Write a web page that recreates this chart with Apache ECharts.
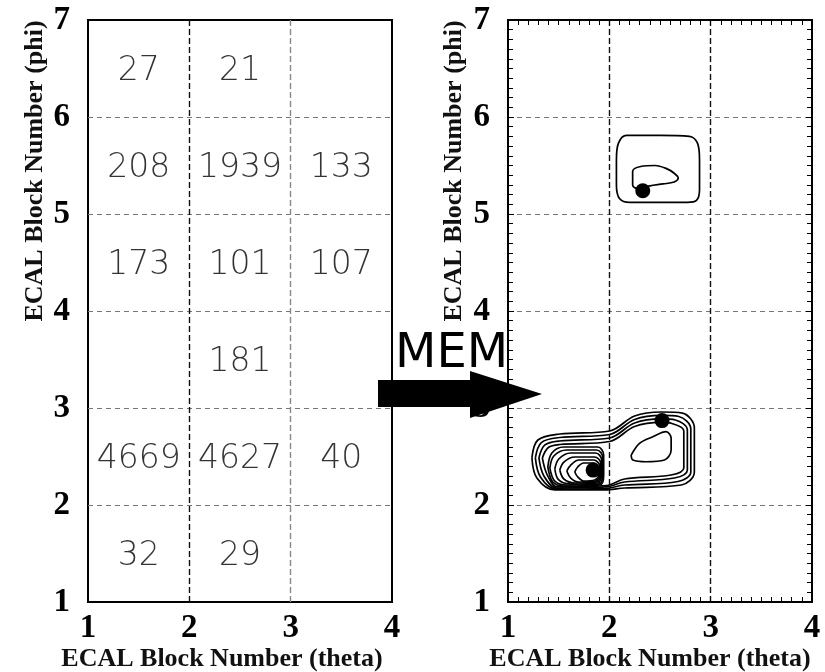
<!DOCTYPE html>
<html>
<head>
<meta charset="utf-8">
<script src="https://cdn.jsdelivr.net/npm/echarts@6/dist/echarts.min.js"></script>
<style>html,body{margin:0;padding:0;background:#fff}#chart{width:825px;height:672px}</style>
</head>
<body>
<div id="chart"></div>
<script>
// ---- data ----
const thetaRange = [1, 4];
const phiRange = [1, 7];
const cellTheta = [1.5, 2.5, 1.5, 2.5, 3.5, 1.5, 2.5, 3.5, 2.5, 1.5, 2.5, 3.5, 1.5, 2.5];
const cellPhi   = [6.5, 6.5, 5.5, 5.5, 5.5, 4.5, 4.5, 4.5, 3.5, 2.5, 2.5, 2.5, 1.5, 1.5];
const cellCounts = [27, 21, 208, 1939, 133, 173, 101, 107, 181, 4669, 4627, 40, 32, 29];

// MEM contour lines (theta, phi)
const upperOuter = [[2.07,5.56],[2.09,5.73],[2.17,5.81],[2.50,5.81],[2.79,5.80],[2.87,5.73],[2.89,5.56],[2.89,5.25],[2.86,5.14],[2.77,5.12],[2.20,5.12],[2.10,5.16],[2.07,5.30],[2.07,5.56]];
const upperInner = [[2.23,5.38],[2.23,5.44],[2.31,5.49],[2.45,5.50],[2.56,5.47],[2.64,5.42],[2.68,5.37],[2.64,5.33],[2.53,5.31],[2.40,5.29],[2.28,5.26],[2.23,5.30],[2.23,5.38]];
const lower1 = [[1.236,2.485],[1.285,2.278],[1.462,2.155],[1.954,2.155],[2.150,2.175],[2.711,2.206],[2.839,2.340],[2.839,2.794],[2.721,2.948],[2.514,2.959],[2.249,2.918],[2.003,2.763],[1.511,2.732],[1.295,2.670],[1.236,2.485]];
const lower2 = [[1.270,2.485],[1.320,2.289],[1.472,2.165],[1.954,2.170],[2.150,2.206],[2.677,2.242],[2.804,2.340],[2.804,2.784],[2.686,2.912],[2.514,2.923],[2.249,2.881],[2.003,2.727],[1.511,2.696],[1.329,2.644],[1.270,2.485]];
const lower3 = [[1.305,2.485],[1.354,2.299],[1.482,2.175],[1.964,2.186],[2.150,2.237],[2.642,2.278],[2.770,2.361],[2.770,2.773],[2.652,2.876],[2.514,2.887],[2.249,2.845],[2.003,2.691],[1.511,2.660],[1.364,2.619],[1.305,2.485]];
const lower4 = [[1.339,2.485],[1.388,2.309],[1.492,2.186],[1.973,2.201],[2.150,2.268],[2.608,2.309],[2.735,2.381],[2.735,2.763],[2.617,2.840],[2.514,2.851],[2.249,2.809],[2.003,2.655],[1.511,2.624],[1.398,2.593],[1.339,2.485]];
const lowerRightPeak = [[2.216,2.515],[2.298,2.636],[2.429,2.704],[2.560,2.756],[2.610,2.688],[2.610,2.567],[2.544,2.464],[2.364,2.446],[2.232,2.464],[2.216,2.515]];
const lowerLeft1 = [[1.393,2.392],[1.442,2.237],[1.551,2.196],[1.905,2.206],[1.944,2.309],[1.944,2.515],[1.885,2.598],[1.551,2.598],[1.433,2.536],[1.393,2.392]];
const lowerLeft2 = [[1.413,2.381],[1.462,2.247],[1.580,2.206],[1.895,2.216],[1.934,2.309],[1.934,2.495],[1.875,2.567],[1.580,2.567],[1.452,2.505],[1.413,2.381]];
const lowerLeft3 = [[1.462,2.371],[1.501,2.258],[1.619,2.216],[1.885,2.227],[1.924,2.309],[1.924,2.464],[1.865,2.536],[1.619,2.536],[1.501,2.474],[1.462,2.371]];
const lowerLeft4 = [[1.511,2.361],[1.551,2.268],[1.659,2.227],[1.875,2.237],[1.914,2.309],[1.914,2.433],[1.855,2.495],[1.659,2.495],[1.551,2.443],[1.511,2.361]];
const lowerLeft5 = [[1.580,2.351],[1.619,2.278],[1.698,2.237],[1.865,2.247],[1.905,2.309],[1.905,2.402],[1.846,2.464],[1.698,2.464],[1.619,2.412],[1.580,2.351]];
const lowerLeft6 = [[1.659,2.340],[1.688,2.289],[1.747,2.247],[1.855,2.258],[1.895,2.309],[1.895,2.381],[1.846,2.433],[1.747,2.433],[1.688,2.392],[1.659,2.340]];
const peaks = [[2.33,5.24],[2.52,2.87],[1.84,2.36]];

const contours = [upperOuter, upperInner, lower1, lower2, lower3, lower4, lowerRightPeak,
  lowerLeft1, lowerLeft2, lowerLeft3, lowerLeft4, lowerLeft5, lowerLeft6];

// ---- chart ----
const chart = echarts.init(document.getElementById('chart'), null, {renderer: 'canvas'});
const serif = '"Liberation Serif","Times New Roman",serif';
const tickLabel = {fontFamily: serif, fontWeight: 'bold', fontSize: 33, color: '#000'};

function xAx(grid, isRight) {
  return {
    type: 'value', gridIndex: grid, min: thetaRange[0], max: thetaRange[1], interval: 1,
    axisLine: {show: false},
    axisTick: {show: isRight, inside: true, length: 6, lineStyle: {color: '#000', width: 1}},
    minorTick: {show: isRight, splitNumber: 10, length: 5, lineStyle: {color: '#000', width: 1}},
    axisLabel: Object.assign({margin: 10}, tickLabel),
    splitLine: {show: true, showMinLine: false, showMaxLine: false,
      lineStyle: {color: isRight ? '#111' : ['#111', '#888'], type: [6, 3], width: 1.4}}
  };
}
function yAx(grid, isRight) {
  return {
    type: 'value', gridIndex: grid, min: phiRange[0], max: phiRange[1], interval: 1,
    axisLine: {show: false},
    axisTick: {show: isRight, inside: true, length: 6, lineStyle: {color: '#000', width: 1}},
    minorTick: {show: isRight, splitNumber: 10, length: 5, lineStyle: {color: '#000', width: 1}},
    axisLabel: Object.assign({margin: 18}, tickLabel),
    splitLine: {show: true, showMinLine: false, showMaxLine: false, lineStyle: {color: '#777', type: [5, 4], width: 1}}
  };
}
function mirror(axis, pos) {
  return {
    type: 'value', gridIndex: 1, position: pos,
    min: axis === 'x' ? thetaRange[0] : phiRange[0], max: axis === 'x' ? thetaRange[1] : phiRange[1], interval: 1,
    axisLine: {show: false}, axisLabel: {show: false}, splitLine: {show: false},
    axisTick: {show: true, inside: true, length: 6, lineStyle: {color: '#000', width: 1}},
    minorTick: {show: true, splitNumber: 10, length: 5, lineStyle: {color: '#000', width: 1}}
  };
}

const series = [];
series.push({
  type: 'scatter', xAxisIndex: 0, yAxisIndex: 0, symbolSize: 1,
  itemStyle: {color: 'transparent'},
  data: cellCounts.map((c, i) => [cellTheta[i], cellPhi[i], c]),
  label: {show: true, position: 'inside', offset: [0, 3], formatter: p => String(p.value[2]),
    fontFamily: '"DejaVu Sans","Liberation Sans",sans-serif', fontWeight: 300, fontSize: 33, color: '#000'},
  emphasis: {disabled: true}, silent: true
});
contours.forEach(c => series.push({
  type: 'line', xAxisIndex: 1, yAxisIndex: 1, data: c, smooth: 0.35,
  symbol: 'none', lineStyle: {color: '#000', width: 1.7}, silent: true, z: 3
}));
series.push({
  type: 'scatter', xAxisIndex: 1, yAxisIndex: 1, data: peaks, symbolSize: 15,
  itemStyle: {color: '#000', opacity: 1}, silent: true, z: 4
});

const gridBox = {show: true, borderColor: '#000', borderWidth: 2, backgroundColor: 'transparent'};
const option = {
  animation: false,
  backgroundColor: '#fff',
  grid: [
    Object.assign({left: 88, top: 20, width: 304, height: 582, containLabel: false}, gridBox),
    Object.assign({left: 508, top: 20, width: 304, height: 582, containLabel: false}, gridBox)
  ],
  xAxis: [xAx(0, false), xAx(1, true), mirror('x', 'top')],
  yAxis: [yAx(0, false), yAx(1, true), mirror('y', 'right')],
  series: series,
  graphic: [
    {type: 'text', x: 222, y: 659, style: {text: 'ECAL Block Number (theta)', fontFamily: serif, fontWeight: 'bold', fontSize: 26, fill: '#111', align: 'center', verticalAlign: 'middle'}},
    {type: 'text', x: 650, y: 659, style: {text: 'ECAL Block Number (theta)', fontFamily: serif, fontWeight: 'bold', fontSize: 26, fill: '#111', align: 'center', verticalAlign: 'middle'}},
    {type: 'text', x: 35, y: 171, rotation: Math.PI / 2, style: {text: 'ECAL Block Number (phi)', fontFamily: serif, fontWeight: 'bold', fontSize: 26, fill: '#111', align: 'center', verticalAlign: 'middle'}},
    {type: 'text', x: 454, y: 171, rotation: Math.PI / 2, style: {text: 'ECAL Block Number (phi)', fontFamily: serif, fontWeight: 'bold', fontSize: 26, fill: '#111', align: 'center', verticalAlign: 'middle'}},
    {type: 'text', x: 395, y: 355, z: 100, style: {text: 'MEM', fontFamily: '"DejaVu Sans",sans-serif', fontSize: 48, fill: '#000', align: 'left', verticalAlign: 'middle'}},
    {type: 'polygon', z: 100, shape: {points: [[378,380],[470,380],[470,371],[542,394],[470,418],[470,407],[378,407]]}, style: {fill: '#000'}}
  ]
};
chart.setOption(option);
</script>
</body>
</html>
